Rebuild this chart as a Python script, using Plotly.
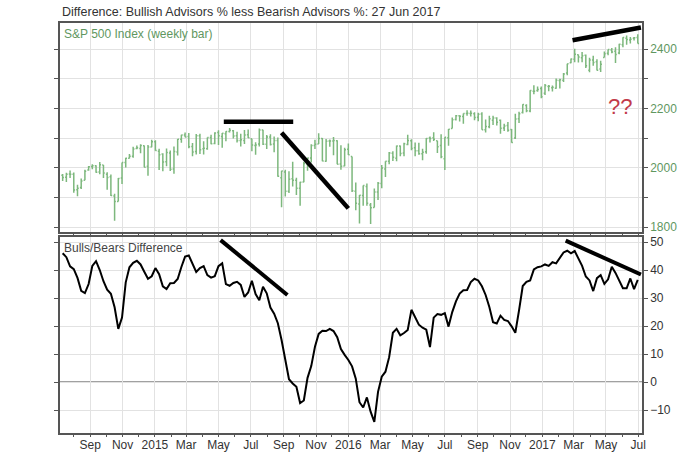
import pandas as pd
import plotly.graph_objects as go

# S&P 500 weekly bars, Jul 2014 .. 27 Jun 2017 (week-ending Fridays)
first_week = "2014-07-11"

spx_open = [
    1975, 1968, 1979, 1978, 1926, 1933, 1958, 1992, 2004, 2007, 1986, 2009, 1978,
    1970, 1905, 1886, 1965, 2018, 2032, 2039, 2065, 2065, 2074, 2005, 2070,
    2088, 2056, 2046, 2020, 2050, 1996, 2053, 2096, 2110, 2105, 2072, 2055, 2108,
    2064, 2064, 2102, 2082, 2119, 2105, 2115, 2122, 2125, 2108, 2092, 2092, 2111,
    2098, 2075, 2080, 2127, 2079, 2104, 2080, 2092, 1966, 1986, 1921, 1963, 1958,
    1931, 1952, 2013, 2033, 2075, 2080, 2099, 2022, 2090, 2090, 2091, 2013, 2006,
    2062,
    2038, 1921, 1878, 1906, 1937, 1874, 1866, 1918, 1947, 1996, 2022, 2049, 2032,
    2073, 2050, 2078, 2091, 2067, 2057, 2047, 2054, 2100, 2101, 2091, 2075, 2030,
    2101, 2132, 2163, 2175, 2173, 2183, 2183, 2182, 2170, 2181, 2128, 2138, 2160,
    2168, 2160, 2134, 2142, 2129, 2100, 2165, 2186, 2210, 2191, 2258, 2260, 2267,
    2251, 2274, 2270, 2268, 2294, 2295, 2319, 2354, 2366, 2381, 2371, 2379, 2329,
    2363, 2357, 2333, 2372, 2386, 2397, 2393, 2387, 2415, 2437, 2431, 2437, 2439,
]
spx_high = [
    1979, 1983, 1991, 1984, 1943, 1964, 1993, 2006, 2012, 2008, 2019, 2009, 1985,
    1977, 1912, 1965, 2018, 2034, 2046, 2071, 2075, 2079, 2075, 2077, 2094,
    2093, 2064, 2049, 2065, 2058, 2072, 2097, 2111, 2119, 2117, 2083, 2114, 2115,
    2089, 2102, 2111, 2120, 2126, 2117, 2123, 2134, 2127, 2121, 2115, 2127, 2129,
    2098, 2086, 2132, 2128, 2110, 2113, 2105, 2102, 1990, 1993, 1988, 2020, 1966,
    1953, 2020, 2034, 2079, 2094, 2116, 2100, 2097, 2095, 2104, 2093, 2076, 2067,
    2082,
    2038, 1950, 1908, 1940, 1947, 1881, 1930, 1952, 2009, 2022, 2053, 2056, 2075,
    2075, 2084, 2111, 2096, 2085, 2084, 2064, 2100, 2105, 2120, 2091, 2113, 2103,
    2131, 2169, 2178, 2177, 2183, 2194, 2193, 2187, 2185, 2187, 2163, 2175, 2175,
    2170, 2163, 2148, 2154, 2131, 2182, 2189, 2214, 2214, 2261, 2278, 2274, 2274,
    2282, 2279, 2277, 2301, 2300, 2319, 2351, 2368, 2401, 2382, 2390, 2382, 2371,
    2378, 2366, 2361, 2392, 2399, 2404, 2406, 2418, 2440, 2446, 2441, 2441, 2450,
]
spx_low = [
    1955, 1952, 1965, 1916, 1904, 1928, 1958, 1990, 1995, 1983, 1978, 1965, 1926,
    1905, 1821, 1886, 1945, 2001, 2031, 2034, 2062, 2049, 2002, 1973, 2069,
    2057, 1992, 1988, 2005, 1989, 1980, 2041, 2084, 2103, 2066, 2039, 2045, 2046,
    2045, 2061, 2079, 2079, 2077, 2067, 2089, 2119, 2099, 2085, 2072, 2080, 2100,
    2056, 2044, 2072, 2077, 2063, 2075, 2052, 1970, 1867, 1903, 1915, 1937, 1908,
    1872, 1951, 1990, 2018, 2063, 2080, 2022, 2020, 2071, 2042, 2012, 1993, 2005,
    2043,
    1918, 1857, 1812, 1872, 1872, 1810, 1866, 1891, 1931, 1969, 2012, 2023, 2022,
    2039, 2039, 2076, 2059, 2039, 2044, 2025, 2047, 2085, 2090, 2050, 2032, 1992,
    2074, 2132, 2159, 2156, 2148, 2175, 2173, 2160, 2157, 2128, 2119, 2133, 2144,
    2142, 2115, 2124, 2121, 2084, 2097, 2151, 2183, 2187, 2187, 2248, 2256, 2234,
    2245, 2258, 2257, 2266, 2267, 2289, 2312, 2352, 2356, 2355, 2356, 2336, 2322,
    2344, 2328, 2323, 2372, 2379, 2386, 2353, 2383, 2406, 2415, 2419, 2429, 2419,
]
spx_close = [
    1967, 1978, 1978, 1925, 1931, 1955, 1988, 2003, 2007, 1985, 2010, 1982, 1967,
    1906, 1886, 1964, 2018, 2032, 2039, 2063, 2067, 2075, 2002, 2070, 2088,
    2058, 2044, 2019, 2051, 1995, 2055, 2096, 2110, 2104, 2071, 2053, 2108, 2061,
    2066, 2102, 2081, 2117, 2108, 2116, 2122, 2126, 2107, 2092, 2094, 2110, 2101,
    2077, 2077, 2127, 2079, 2104, 2078, 2092, 1971, 1989, 1921, 1961, 1958, 1931,
    1951, 2014, 2033, 2075, 2079, 2099, 2023, 2089, 2090, 2092, 2012, 2005, 2061,
    2044,
    1922, 1880, 1907, 1940, 1880, 1865, 1918, 1948, 1999, 2022, 2050, 2035, 2073,
    2048, 2081, 2092, 2065, 2057, 2047, 2052, 2099, 2099, 2096, 2071, 2037, 2103,
    2130, 2162, 2175, 2174, 2183, 2184, 2184, 2169, 2180, 2128, 2139, 2165, 2168,
    2153, 2133, 2141, 2126, 2085, 2164, 2182, 2213, 2192, 2260, 2258, 2264, 2239,
    2277, 2275, 2271, 2295, 2297, 2316, 2351, 2367, 2383, 2373, 2378, 2344, 2363,
    2355, 2329, 2349, 2384, 2399, 2390, 2382, 2416, 2439, 2432, 2433, 2438, 2419,
]

# Investors Intelligence: bullish % minus bearish %, same weeks
bull_bear_diff = [
    46, 44.6, 41.3, 40.3, 37.2, 32.6, 31.8, 35, 41.5, 43.2, 40, 36, 33,
    31.5, 26.7, 19, 23, 35.6, 41, 42.6, 43.3, 42, 39.4, 36.9, 37.8,
    40.7, 38.5, 34.2, 33.2, 35.3, 35.4, 36.8, 41.1, 44.8, 45.2, 41.9, 39.3, 40.7,
    41.4, 38.2, 37.3, 37.8, 41.4, 42.4, 35, 34.4, 35.4, 35.8, 34.7, 30.4, 32,
    36.2, 31.4, 29.2, 34, 31.7, 26.6, 24.4, 21, 15, 7.3, 1, -0.5, -1.7,
    -7.5, -6.6, 1.5, 5.7, 12.6, 17.2, 18.3, 18.2, 19, 18.2, 16, 11.8, 9.7,
    7.9,
    5.6, 1.2, -7.2, -9.1, -5.5, -10.6, -14.2, -3.5, 1.9, 3.7, 8.9, 17.6, 19,
    16.7, 17.5, 18.6, 25.8, 23.4, 20.5, 19.4, 18.7, 12.5, 23, 24.3, 24, 24.6,
    19.8, 25, 28.8, 31.6, 32.8, 32.9, 35.7, 36.9, 36.3, 34.2, 31.1, 26.8, 21.4,
    20.9, 23.7, 22.2, 21.8, 19.9, 17.6, 25.6, 34.3, 35.8, 36.3, 40.2, 41, 41.3,
    42, 41.5, 42.8, 42.4, 44.4, 46.3, 46.9, 46, 46.8, 44, 41.5, 37.7, 36.3,
    32.5, 37.1, 38.2, 35.1, 36.7, 41.2, 39, 36.5, 33.5, 33.5, 37, 33.2, 36.5,
]

weeks = pd.date_range(first_week, periods=len(spx_close), freq="W-FRI")

# x-axis labels every two months
tick_dates = pd.date_range("2014-09-01", "2017-07-01", freq="2MS")
tick_labels = ["Sep", "Nov", "2015", "Mar", "May", "Jul", "Sep", "Nov", "2016",
               "Mar", "May", "Jul", "Sep", "Nov", "2017", "Mar", "May", "Jul"]

spx_ticks = [1800, 1900, 2000, 2100, 2200, 2300, 2400]
spx_tick_text = ["1800", "", "2000", "", "2200", "", "2400"]
diff_ticks = [-10, 0, 10, 20, 30, 40, 50]

# hand-drawn trend lines: (x0, y0, x1, y1)
spx_trendlines = [
    ("2015-05-11", 2155, "2015-09-19", 2155),
    ("2015-08-28", 2118, "2016-01-01", 1863),
    ("2017-02-27", 2430, "2017-07-06", 2473),
]
diff_trendlines = [
    ("2015-05-05", 50.7, "2015-09-08", 31.1),
    ("2017-02-14", 50.5, "2017-07-06", 38.4),
]

x_range = ["2014-07-06", "2017-07-08"]
green_bar = "#7db87d"
green_text = "#5f975f"
frame = "#555555"
grid = "#e2e2e2"

fig = go.Figure()

fig.add_trace(go.Ohlc(
    x=weeks, open=spx_open, high=spx_high, low=spx_low, close=spx_close,
    increasing=dict(line=dict(color=green_bar, width=1.5)),
    decreasing=dict(line=dict(color=green_bar, width=1.5)),
    tickwidth=0.35, xaxis="x", yaxis="y", hoverinfo="skip",
))

fig.add_trace(go.Scatter(
    x=weeks, y=bull_bear_diff, mode="lines",
    line=dict(color="black", width=2), xaxis="x2", yaxis="y2",
))

for x0, y0, x1, y1 in spx_trendlines:
    fig.add_shape(type="line", xref="x", yref="y", x0=x0, y0=y0, x1=x1, y1=y1,
                  line=dict(color="black", width=4.5))
for x0, y0, x1, y1 in diff_trendlines:
    fig.add_shape(type="line", xref="x2", yref="y2", x0=x0, y0=y0, x1=x1, y1=y1,
                  line=dict(color="black", width=4))

fig.add_shape(type="line", xref="x2", yref="y2", x0=x_range[0], x1=x_range[1],
              y0=0, y1=0, line=dict(color="#444444", width=1.2), layer="below")

fig.add_annotation(x="2017-05-28", y=2208, xref="x", yref="y", text="??", showarrow=False,
                   font=dict(size=22, color="#c23a4a", family="Arial"))
fig.add_annotation(x=0, y=1, xref="paper", yref="paper", xanchor="left", yanchor="bottom",
                   yshift=2, text="Difference: Bullish Advisors % less Bearish Advisors %: 27 Jun 2017",
                   showarrow=False, font=dict(size=12.5, color="#333333"))
fig.add_annotation(x=0, y=1, xref="x domain", yref="y domain", xanchor="left", yanchor="top",
                   xshift=2, yshift=-2, text="S&P 500 Index (weekly bar)", showarrow=False,
                   font=dict(size=12, color=green_text))
fig.add_annotation(x=0, y=1, xref="x2 domain", yref="y2 domain", xanchor="left", yanchor="top",
                   xshift=2, yshift=-2, text="Bulls/Bears Difference", showarrow=False,
                   font=dict(size=12, color="#444444"))

axis_common = dict(showline=True, linecolor=frame, linewidth=1.5, mirror="ticks",
                   gridcolor=grid, gridwidth=1, zeroline=False)

fig.update_layout(
    width=700, height=468,
    margin=dict(l=60, r=58, t=23, b=35),
    paper_bgcolor="white", plot_bgcolor="white",
    font=dict(family="Arial", size=12, color="#333333"),
    showlegend=False,
    xaxis=dict(domain=[0, 1], anchor="y", range=x_range, rangeslider=dict(visible=False),
               tickvals=tick_dates, ticktext=[""] * len(tick_dates), ticks="",
               **axis_common),
    yaxis=dict(domain=[0.49, 1], anchor="x", side="right", range=[1783, 2488],
               tickvals=spx_ticks, ticktext=spx_tick_text, ticks="outside", ticklen=4,
               tickcolor=frame, tickfont=dict(color=green_text, size=12), **axis_common),
    xaxis2=dict(domain=[0, 1], anchor="y2", range=x_range, matches="x",
                tickvals=tick_dates, ticktext=tick_labels, ticks="",
                tickfont=dict(size=12, color="#333333"),
                minor=dict(dtick="M1", ticks="outside", ticklen=2, tickcolor=frame,
                           showgrid=False),
                **axis_common),
    yaxis2=dict(domain=[0, 0.478], anchor="x2", side="right", range=[-18.2, 51.8],
                tickvals=diff_ticks, ticks="outside", ticklen=4, tickcolor=frame,
                tickfont=dict(size=12, color="#333333"), **axis_common),
)

# drop the browser's default body margin so the 700x468 figure sits at the page origin
fig.write_html("out.html", config={"displayModeBar": False},
               post_script="document.body.style.margin='0';")
